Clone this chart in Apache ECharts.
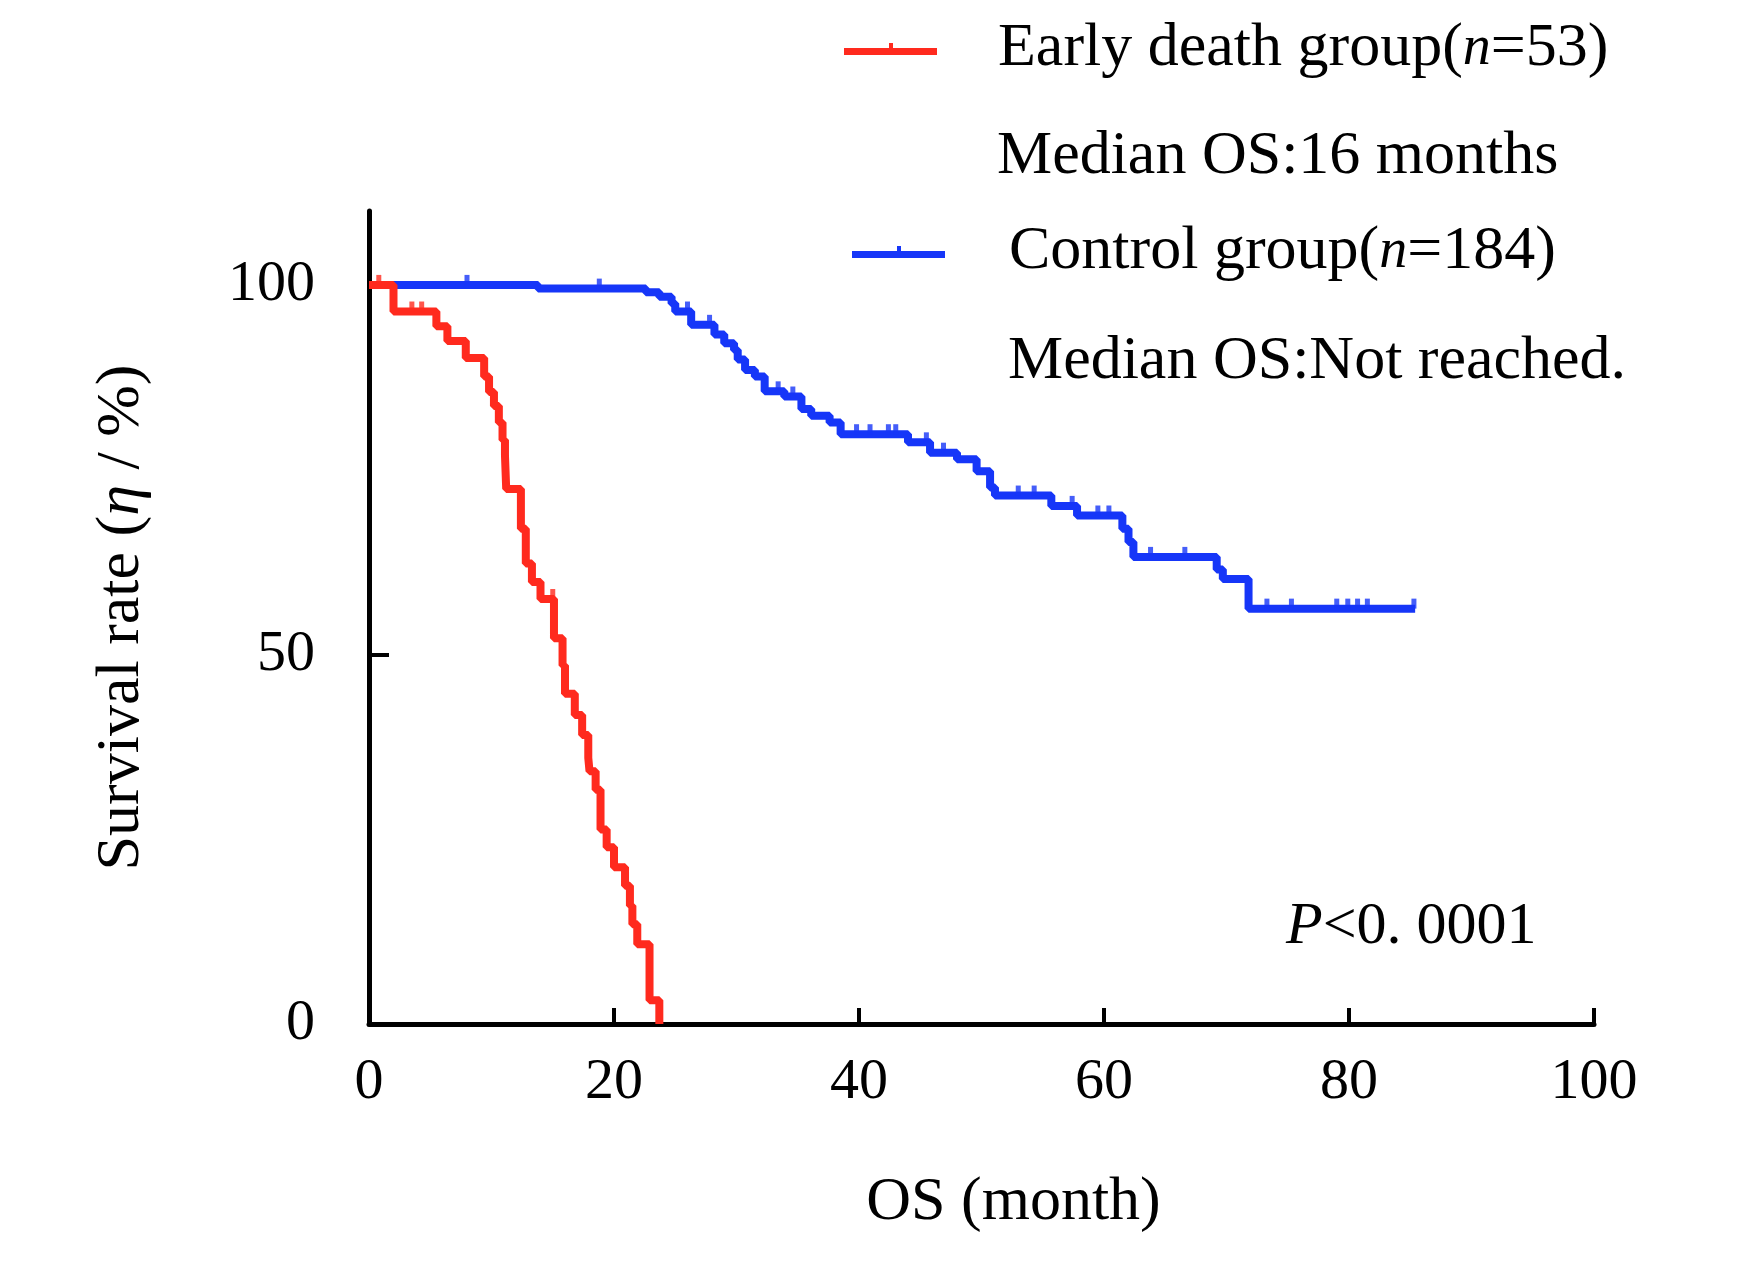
<!DOCTYPE html>
<html>
<head>
<meta charset="utf-8">
<script src="https://cdn.jsdelivr.net/npm/echarts@6/dist/echarts.min.js"></script>
<style>
  html, body { margin: 0; padding: 0; background: #fff; }
  #chart { width: 1746px; height: 1268px; }
</style>
</head>
<body>
<div id="chart"></div>
<script>
// ---- Data (months, survival %) ----
const earlyTime = [0, 2.0, 5.5, 6.4, 7.9, 9.4, 9.8, 10.2, 10.6, 10.9, 11.1, 11.2, 12.4, 12.8, 13.3, 14.0, 15.1, 15.8, 16.0, 16.8, 17.4, 17.9, 18.0, 18.5, 18.9, 19.4, 20.0, 20.9, 21.3, 21.5, 21.9, 22.9, 23.7];
const earlySurv = [100, 96.4, 94.4, 92.4, 90.1, 87.6, 85.5, 83.6, 81.4, 79.0, 76.9, 72.4, 67.0, 62.3, 59.8, 57.5, 52.2, 48.5, 44.7, 41.8, 39.1, 36.0, 34.2, 31.7, 26.3, 23.9, 21.2, 18.7, 16.0, 13.5, 10.8, 3.2, 0];

const controlTime = [0, 13.8, 22.6, 23.7, 24.7, 25.0, 26.3, 28.2, 29.0, 29.8, 30.1, 30.7, 31.5, 32.3, 33.9, 35.3, 36.1, 37.6, 38.5, 44.0, 45.8, 48.0, 49.6, 50.7, 51.1, 55.7, 57.8, 61.5, 62.0, 62.4, 69.2, 69.7, 71.8, 85.4];
const controlSurv = [100, 99.5, 99.0, 98.4, 97.5, 96.4, 94.6, 93.3, 92.1, 91.2, 89.9, 88.5, 87.6, 85.6, 84.9, 83.2, 82.3, 81.4, 79.8, 78.7, 77.3, 76.4, 74.8, 72.6, 71.5, 70.1, 68.8, 67.0, 65.2, 63.2, 61.5, 60.2, 56.2, 56.2];

// censored observation times (small tick marks on the curves)
const earlyCensor = [0.8, 3.5, 4.3, 15.0];
const controlCensor = [8.0, 18.8, 26.0, 27.8, 33.4, 34.6, 39.8, 40.9, 42.4, 43.0, 45.5, 46.9, 53.0, 54.3, 57.4, 59.5, 60.4, 63.8, 66.6, 73.3, 75.3, 79.0, 79.9, 80.7, 81.5, 85.3];

const xTicks = [0, 20, 40, 60, 80, 100];
const yTicks = [0, 50, 100];

const earlyName = 'Early death group(n=53)';
const controlName = 'Control group(n=184)';
const earlyMedian = 'Median OS:16 months';
const controlMedian = 'Median OS:Not reached.';

// ---- helpers ----
function pairs(t, s) { return t.map((v, i) => [v, s[i]]); }
function survAt(t, times, surv) {
  let v = surv[0];
  for (let i = 0; i < times.length; i++) { if (times[i] <= t) v = surv[i]; }
  return v;
}
function censorPts(c, times, surv) { return c.map(t => [t, survAt(t, times, surv)]); }

const FONT = '"Liberation Serif", "Times New Roman", serif';
const RED = '#ff2a1e';
const BLUE = '#1636f8';
const legendIcon = 'path://M0,5H45V0H49V5H93V12H0Z';

const chart = echarts.init(document.getElementById('chart'), null, { renderer: 'canvas' });

const legendText = () => ({
  color: '#000', fontFamily: FONT, fontSize: 62, lineHeight: 70,
  rich: {
    a: { fontFamily: FONT, fontSize: 62, color: '#000', lineHeight: 70 },
    i: { fontFamily: FONT, fontSize: 56, fontStyle: 'italic', color: '#000', lineHeight: 70 }
  }
});

const option = {
  backgroundColor: '#fff',
  animation: false,
  grid: { left: 369, right: 152, top: 211, bottom: 244, containLabel: false, outerBoundsMode: 'none' },
  legend: [
    {
      data: [earlyName], left: 844, top: 14, padding: 0,
      itemWidth: 93, itemHeight: 12, icon: legendIcon, selectedMode: false,
      formatter: () => '{a|Early death group(}{i|n}{a|=53)}',
      textStyle: Object.assign(legendText(), { padding: [0, 0, 0, 56] })
    },
    {
      data: [controlName], left: 852, top: 217, padding: 0,
      itemWidth: 93, itemHeight: 12, icon: legendIcon, selectedMode: false,
      formatter: () => '{a|Control group(}{i|n}{a|=184)}',
      textStyle: Object.assign(legendText(), { padding: [0, 0, 0, 59] })
    }
  ],
  xAxis: {
    type: 'value', min: 0, max: 100, interval: 20,
    name: 'OS (month)', nameLocation: 'middle', nameGap: 148, nameMoveOverlap: false,
    nameTextStyle: { fontFamily: FONT, fontSize: 62, color: '#000', padding: [0, 0, 0, 64] },
    axisLine: { show: true, onZero: false, lineStyle: { color: '#000', width: 5 } },
    axisTick: { show: true, inside: true, length: 16, lineStyle: { color: '#000', width: 4 } },
    axisLabel: { fontFamily: FONT, fontSize: 58, color: '#000', margin: 30, customValues: xTicks },
    splitLine: { show: false }
  },
  yAxis: {
    type: 'value', min: 0, max: 110, interval: 50,
    name: '{a|Survival rate (}{i|η}{a| / %)}', nameLocation: 'middle', nameGap: 216, nameMoveOverlap: false,
    nameTextStyle: {
      fontFamily: FONT, fontSize: 62, color: '#000',
      rich: {
        a: { fontFamily: FONT, fontSize: 62, color: '#000' },
        i: { fontFamily: FONT, fontSize: 62, fontStyle: 'italic', color: '#000' }
      }
    },
    axisLine: { show: true, onZero: false, lineStyle: { color: '#000', width: 5 } },
    axisTick: { show: true, inside: true, length: 20, customValues: yTicks, lineStyle: { color: '#000', width: 4 } },
    axisLabel: { fontFamily: FONT, fontSize: 58, color: '#000', margin: 54, customValues: yTicks },
    splitLine: { show: false }
  },
  graphic: [
    { type: 'text', x: 997, y: 157, style: { text: earlyMedian, fontFamily: FONT, fontSize: 62, fill: '#000', verticalAlign: 'middle', align: 'left' } },
    { type: 'text', x: 1008, y: 362, style: { text: controlMedian, fontFamily: FONT, fontSize: 62, fill: '#000', verticalAlign: 'middle', align: 'left' } },
    { type: 'text', x: 1286, y: 927, style: {
        text: '{i|P}{a|<0. 0001}', fill: '#000', verticalAlign: 'middle', align: 'left',
        fontFamily: FONT, fontSize: 60,
        rich: {
          i: { fontFamily: FONT, fontSize: 60, fontStyle: 'italic', fill: '#000' },
          a: { fontFamily: FONT, fontSize: 60, fill: '#000' }
        }
      } }
  ],
  series: [
    {
      name: controlName, type: 'line', step: 'end', showSymbol: false, z: 2,
      data: pairs(controlTime, controlSurv),
      itemStyle: { color: BLUE }, lineStyle: { color: BLUE, width: 8 }
    },
    {
      name: controlName + ' censored', type: 'scatter', z: 2, silent: true,
      data: censorPts(controlCensor, controlTime, controlSurv),
      symbol: 'rect', symbolSize: [5, 10], symbolOffset: [0, -5],
      itemStyle: { color: BLUE }
    },
    {
      name: earlyName, type: 'line', step: 'end', showSymbol: false, z: 3,
      data: pairs(earlyTime, earlySurv),
      itemStyle: { color: RED }, lineStyle: { color: RED, width: 8 }
    },
    {
      name: earlyName + ' censored', type: 'scatter', z: 3, silent: true,
      data: censorPts(earlyCensor, earlyTime, earlySurv),
      symbol: 'rect', symbolSize: [5, 10], symbolOffset: [0, -5],
      itemStyle: { color: RED }
    }
  ]
};
chart.setOption(option);
</script>
</body>
</html>
